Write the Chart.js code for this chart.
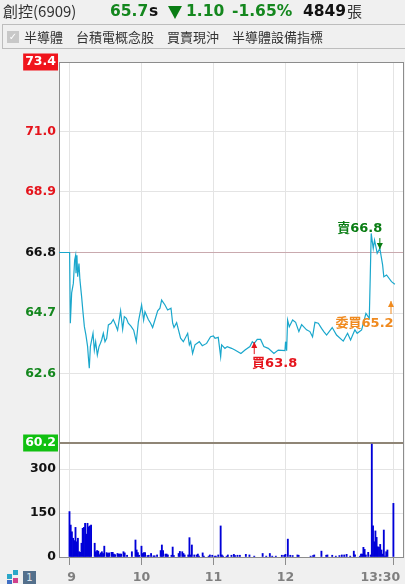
<!DOCTYPE html>
<html>
<head>
<meta charset="utf-8">
<script src="https://cdn.jsdelivr.net/npm/chart.js@4/dist/chart.umd.js"></script>
<style>
  html, body { margin: 0; padding: 0; width: 405px; height: 584px; overflow: hidden; background: #f0f0f0; }
  body { position: relative; font-family: 'DejaVu Sans', 'Noto Sans CJK TC', sans-serif; }
  #myChart { position: absolute; left: 0; top: 0; }
  .t { position: absolute; white-space: nowrap; line-height: 1; }
  .num { font-weight: bold; font-size: 15.5px; top: 4px; color: #14871e; }
  .cjk { font-family: 'Noto Sans CJK TC', sans-serif; font-size: 13px; top: 30px; color: #333; }
  #bar { position: absolute; left: 2px; top: 24px; width: 403px; height: 23px; border: 1px solid #bdbdbd; border-right: 0; }
  #check { position: absolute; left: 7px; top: 31px; width: 12px; height: 12px; background: #c8c8c8; color: #fff; font-size: 10px; line-height: 12px; text-align: center; }
  #tri { position: absolute; left: 168px; top: 6px; width: 0; height: 0; border-left: 7px solid transparent; border-right: 7px solid transparent; border-top: 13px solid #0a7d14; }
  .sq { position: absolute; width: 5px; height: 5px; }
</style>
</head>
<body>
<canvas id="myChart" width="405" height="584"></canvas>

<div class="t" style="left:3px;top:3px;font-size:15px;color:#333;font-family:'Noto Sans CJK TC',sans-serif">創控(6909)</div>
<div class="t num" style="left:110px">65.7</div>
<div class="t num" style="left:149px;color:#111">s</div>
<div id="tri"></div>
<div class="t num" style="left:186px">1.10</div>
<div class="t num" style="left:232px">-1.65%</div>
<div class="t num" style="left:303px;color:#111">4849</div>
<div class="t" style="left:347px;top:3px;font-size:15px;color:#333;font-family:'Noto Sans CJK TC',sans-serif">張</div>

<div id="bar"></div>
<div id="check">✓</div>
<div class="t cjk" style="left:24px">半導體</div>
<div class="t cjk" style="left:76px">台積電概念股</div>
<div class="t cjk" style="left:167px">買賣現沖</div>
<div class="t cjk" style="left:232px">半導體設備指標</div>

<div class="sq" style="left:7px;top:574px;background:#2aa7c9"></div>
<div class="sq" style="left:13px;top:570px;background:#2aa7c9"></div>
<div class="sq" style="left:7px;top:580px;background:#3f6fc4"></div>
<div class="sq" style="left:13px;top:578px;background:#d0408c"></div>
<div style="position:absolute;left:23px;top:571px;width:13px;height:13px;background:#54708c;color:#dfe6ee;font-size:10px;line-height:13px;text-align:center">1</div>

<script>
const PREV_CLOSE = 66.8;

// Tick labels
const priceTicks = [73.4, 71.0, 68.9, 66.8, 64.7, 62.6, 60.2];
const volumeTicks = [0, 150, 300];
const timeTicks = [0, 60, 120, 180, 240, 270];
const timeLabels = [' 9', '10', '11', '12', '', '13:30      '];

// Price line, minutes after 9:00
const lineMinutes = [-8.7, 0.1, 0.7, 1.8, 3.2, 4.3, 5.1, 5.4, 6.2, 6.8, 7.9, 8.7, 10.1, 11.2, 12.4, 13.7, 15.1, 15.7, 16.5, 17.4,
  18.5, 19.6, 20.7, 21.8, 23.2, 24.6, 25.7, 26.8, 28.2, 29.6, 31, 32.4, 34.6, 36.5, 38.5, 40.1, 41.2, 42.6, 44.3, 45.7,
  47.4, 49, 51.2, 53.5, 55.7, 57.4, 60.1, 61.8, 62.9, 65.7, 67.6, 69.3, 71.2, 73.5, 75.4, 76.8, 79.6, 81.8, 84.6, 86,
  87.1, 89.3, 92.6, 94.9, 98.5, 99.9, 101, 102.6, 104.6, 108.2, 110.7, 114.3, 117.6, 119.9, 121.3, 124, 126, 126.8, 129.6, 131.5,
  135.1, 137.9, 142.9, 146.3, 150.4, 152.4, 154, 156.5, 159.3, 162, 165.7, 170.4, 174, 179.6, 180.1, 181, 181.8, 183.2, 186, 188.5,
  191.2, 193.5, 197.6, 200.4, 202.6, 204.6, 207.4, 210.1, 212, 214.3, 219, 222.6, 228.2, 231.8, 234.3, 237.9, 239.8, 243.5, 247.1, 249.9,
  250.7, 251.5, 253.2, 254.3, 256.5, 258.7, 261, 262, 264.3, 268.4, 271.2];
const linePrices = [66.8, 66.8, 64.35, 65.4, 65.73, 66.54, 66.7, 66.08, 66.7, 65.96, 66.42, 65.85, 65.27, 64.75, 64.23, 63.94, 63.54, 63.19, 62.79, 63.54,
  63.77, 64.0, 63.42, 63.71, 63.25, 63.54, 63.65, 63.77, 64.0, 63.71, 63.83, 64.29, 64.35, 64.48, 64.29, 64.11, 64.4, 64.78, 64.14, 64.58,
  64.52, 64.35, 64.25, 64.11, 63.71, 64.4, 64.98, 64.46, 64.75, 64.48, 64.35, 64.2, 64.46, 64.78, 64.87, 65.15, 64.98, 64.81, 64.87, 64.35,
  64.2, 64.37, 63.83, 63.71, 64.0, 63.6, 63.71, 63.3, 63.6, 63.71, 63.57, 63.65, 63.88, 63.91, 63.83, 63.86, 63.19, 63.6, 63.48, 63.54,
  63.48, 63.42, 63.3, 63.42, 63.54, 63.71, 63.65, 63.79, 63.79, 63.54, 63.48, 63.3, 63.42, 63.4, 63.71, 63.4, 64.46, 64.23, 64.46, 64.38,
  64.06, 64.3, 64.12, 64.06, 63.88, 64.38, 64.35, 64.17, 64.06, 63.94, 64.2, 63.94, 63.73, 64.0, 63.77, 64.12, 64.0, 64.12, 64.69, 64.52,
  65.96, 67.46, 66.94, 67.23, 66.77, 66.94, 66.37, 65.96, 66.02, 65.79, 65.7];

// Volume bars
const volumeMinutes = [0, 1, 2, 3, 4, 5, 6, 7, 8, 9, 10, 11, 12, 13, 14, 15, 16, 17, 18, 21, 22, 23, 24, 25, 26, 27, 28, 29, 31, 32, 33, 35, 36, 37, 38, 40, 41, 42, 43, 45, 46, 48, 52,
  55, 56, 57, 58, 60, 61, 62, 63, 65, 66, 68, 70, 71, 73, 76, 77, 78, 80, 81, 82, 85, 86, 87, 91, 92, 94, 95, 96, 99, 100, 101, 102, 104, 106, 107, 108, 111, 112, 116, 117, 119, 121, 122, 124, 126, 127, 128,
  131, 132, 135, 137, 138, 140, 142, 147, 150, 154, 161, 164, 167, 169, 172, 177, 179, 180, 182, 184, 186, 190, 191, 201, 203, 204, 210, 214, 215, 219, 222, 225, 227, 229, 231, 234, 237, 238,
  242, 243, 244, 245, 246, 247, 249, 251, 252, 253, 254, 255, 256, 257, 258, 259, 260, 261, 262, 263, 264, 265, 270];
const volumeValues = [155, 109, 86, 64, 56, 101, 52, 64, 18, 16, 47, 98, 101, 115, 78, 115, 103, 106, 109, 47, 18, 22, 20, 8, 14, 18, 12, 37, 15, 12, 14, 16, 16, 10, 8, 12, 10, 10, 10, 18, 14, 6, 18,
  58, 24, 15, 6, 37, 12, 15, 15, 5, 6, 12, 4, 4, 7, 22, 41, 22, 10, 10, 7, 6, 34, 5, 12, 19, 18, 12, 7, 7, 66, 7, 41, 7, 7, 10, 3, 14, 3, 3, 7, 6, 3, 3, 7, 106, 7, 3,
  3, 7, 6, 9, 5, 6, 6, 9, 7, 3, 12, 3, 12, 3, 3, 6, 6, 9, 61, 6, 5, 7, 6, 3, 5, 7, 20, 6, 7, 6, 3, 5, 7, 7, 9, 3, 20, 7,
  3, 10, 10, 33, 26, 7, 16, 7, 385, 106, 52, 89, 67, 35, 33, 43, 24, 10, 92, 3, 18, 24, 183];

// Order labels and arrows
const markerTexts = ['賣66.8', '買63.8', '委買65.2'];
const markerColors = ['#0a7d14', '#e5141c', '#f08a1e'];
const markerMinutes = [242, 171, 246];
const markerPrices = [67.61, 62.94, 64.32];
const arrowMinutes = [258.7, 154, 268];
const arrowTails = [67.3, 63.28, 64.67];
const arrowTips = [66.92, 63.7, 65.12];

const AXIS_GRAY = '#8c8c8c';
const GRID_GRAY = '#e4e4e4';
const LABEL_FONT = { family: "'DejaVu Sans', 'Noto Sans CJK TC', sans-serif", size: 12.5, weight: 'bold' };

const priceColor = (v) => {
  if (v === 73.4 || v === 60.2) return '#ffffff';
  if (v > PREV_CLOSE) return '#e5141c';
  if (v < PREV_CLOSE) return '#14871e';
  return '#111111';
};

// White plot background
const plotBackground = {
  id: 'plotBackground',
  beforeDraw(chart) {
    const a = chart.chartArea;
    chart.ctx.fillStyle = '#ffffff';
    chart.ctx.fillRect(a.left, a.top, a.right - a.left, a.bottom - a.top);
  }
};

// Order labels with their small arrows
const orderMarkers = {
  id: 'orderMarkers',
  afterDatasetsDraw(chart) {
    const ctx = chart.ctx;
    const x = chart.scales.x;
    const y = chart.scales.y;
    ctx.save();
    ctx.font = "bold 13px 'DejaVu Sans', 'Noto Sans CJK TC', sans-serif";
    ctx.textAlign = 'center';
    ctx.textBaseline = 'middle';
    markerTexts.forEach((text, i) => {
      ctx.fillStyle = markerColors[i];
      ctx.strokeStyle = markerColors[i];
      ctx.fillText(text, x.getPixelForValue(markerMinutes[i]), y.getPixelForValue(markerPrices[i]));
      const ax = x.getPixelForValue(arrowMinutes[i]);
      const tail = y.getPixelForValue(arrowTails[i]);
      const tip = y.getPixelForValue(arrowTips[i]);
      const dir = tip > tail ? -1 : 1;
      ctx.lineWidth = 1;
      ctx.beginPath();
      ctx.moveTo(ax, tail);
      ctx.lineTo(ax, tip);
      ctx.stroke();
      ctx.beginPath();
      ctx.moveTo(ax, tip);
      ctx.lineTo(ax - 3, tip + dir * 6);
      ctx.lineTo(ax + 3, tip + dir * 6);
      ctx.closePath();
      ctx.fill();
    });
    ctx.restore();
  }
};

const generateChart = () => {
  const myChart = document.getElementById('myChart').getContext('2d');
  new Chart(myChart, {
    data: {
      datasets: [{
        type: 'line',
        data: lineMinutes.map((m, i) => ({ x: m, y: linePrices[i] })),
        yAxisID: 'y',
        borderColor: '#1aa7cc',
        borderWidth: 1.2,
        pointRadius: 0,
        tension: 0
      }, {
        type: 'bar',
        data: volumeMinutes.map((m, i) => ({ x: m, y: volumeValues[i] })),
        yAxisID: 'v',
        backgroundColor: '#0000d8',
        barThickness: 1.2
      }]
    },
    options: {
      responsive: false,
      animation: false,
      devicePixelRatio: 1,
      layout: { autoPadding: false, padding: { top: 62, right: 0, left: 0, bottom: 0 } },
      plugins: { legend: { display: false }, tooltip: { enabled: false } },
      scales: {
        x: {
          type: 'linear',
          offset: false,
          min: -8.75,
          max: 278,
          afterBuildTicks: (scale) => { scale.ticks = timeTicks.concat([278]).map((v) => ({ value: v })); },
          afterFit: (scale) => { scale.height = 27; },
          border: { color: AXIS_GRAY },
          grid: {
            offset: false,
            color: (c) => (c.tick && c.tick.value === 278 ? AXIS_GRAY : GRID_GRAY),
            tickColor: (c) => (c.tick && (c.tick.value === 278 || c.tick.value === 240) ? 'rgba(0,0,0,0)' : AXIS_GRAY),
            tickLength: 8
          },
          ticks: {
            autoSkip: false,
            maxRotation: 0,
            padding: 2,
            color: '#7f7f7f',
            font: { ...LABEL_FONT, lineHeight: 1.7 },
            callback: (v) => {
              const i = timeTicks.indexOf(v);
              return i < 0 ? '' : timeLabels[i];
            }
          }
        },
        y: {
          type: 'linear',
          position: 'left',
          stack: 'main',
          stackWeight: 381,
          weight: 1,
          min: 60.2,
          max: 73.4,
          afterBuildTicks: (scale) => { scale.ticks = priceTicks.map((v) => ({ value: v })); },
          afterFit: (scale) => { scale.width = 59; },
          border: { color: AXIS_GRAY },
          grid: {
            drawTicks: false,
            color: (c) => {
              const v = c.tick && c.tick.value;
              if (v === 73.4) return AXIS_GRAY;
              if (v === 60.2) return '#8f8576';
              if (v === PREV_CLOSE) return '#c9a9ae';
              return GRID_GRAY;
            },
            lineWidth: (c) => (c.tick && c.tick.value === 60.2 ? 2 : 1)
          },
          ticks: {
            autoSkip: false,
            padding: 3,
            font: LABEL_FONT,
            color: (c) => priceColor(c.tick.value),
            showLabelBackdrop: (c) => c.tick.value === 73.4 || c.tick.value === 60.2,
            backdropColor: (c) => (c.tick.value === 73.4 ? '#f0141c' : '#10c010'),
            backdropPadding: { x: 2, y: 1 },
            callback: (v) => v.toFixed(1)
          }
        },
        v: {
          type: 'linear',
          position: 'left',
          stack: 'main',
          stackWeight: 114,
          weight: 0,
          min: 0,
          max: 389,
          afterBuildTicks: (scale) => { scale.ticks = volumeTicks.map((v) => ({ value: v })); },
          afterFit: (scale) => { scale.width = 59; },
          border: { color: AXIS_GRAY },
          grid: { drawTicks: false, color: GRID_GRAY },
          ticks: { autoSkip: false, padding: 3, color: '#111111', font: LABEL_FONT }
        }
      }
    },
    plugins: [plotBackground, orderMarkers]
  });
};
generateChart();
</script>
</body>
</html>
